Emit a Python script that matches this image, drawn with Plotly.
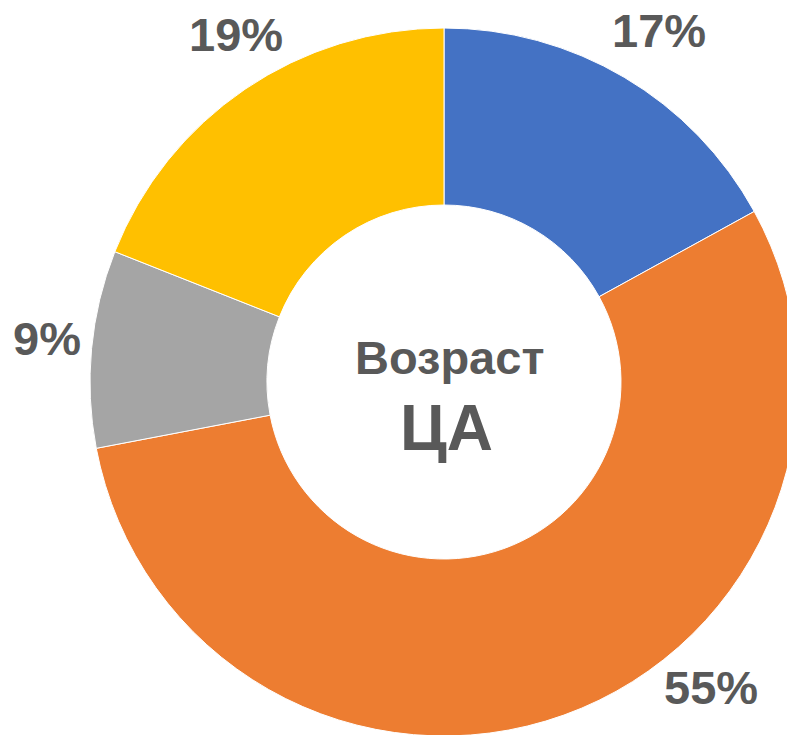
import math
import plotly.graph_objects as go

categories = ["Группа 1", "Группа 2", "Группа 3", "Группа 4"]
values = [17, 55, 9, 19]
colors = ["#4472C4", "#ED7D31", "#A5A5A5", "#FFC000"]
center_lines = ["Возраст", "ЦА"]

W, H = 795, 735
OFF = 8  # default page body margin
CX, CY, R = 444 - OFF, 382 - OFF, 354

fig = go.Figure(go.Pie(
    labels=categories, values=values, sort=False, direction="clockwise",
    rotation=0, hole=0.5, textinfo="none", hoverinfo="label+percent",
    marker=dict(colors=colors, line=dict(color="white", width=1)),
    domain=dict(x=[(CX - R) / W, (CX + R) / W],
                y=[(H - CY - R) / H, (H - CY + R) / H]),
    showlegend=False,
))

font = dict(family="Liberation Sans, Arial, sans-serif", color="#595959", weight="bold")
total = sum(values)
label_angle_nudge = [1.0, -21.1, 0.6, 3.1]
label_radius = [1.16, 1.151, 1.128, 1.139]
cum = 0
for v, nud, rf in zip(values, label_angle_nudge, label_radius):
    mid = (cum + v / 2) / total * 360 + nud
    cum += v
    a = math.radians(mid)
    px = CX + rf * R * math.sin(a)
    py = CY - rf * R * math.cos(a) - 2
    fig.add_annotation(x=px / W, y=1 - py / H, xref="paper", yref="paper",
                       text=f"{round(v / total * 100)}%", showarrow=False,
                       font=dict(size=47, **font), xanchor="center", yanchor="middle",
                       borderpad=0)

fig.add_annotation(x=(449 - OFF) / W, y=1 - (357 - OFF) / H, xref="paper", yref="paper",
                   text=center_lines[0], showarrow=False,
                   font=dict(size=47, **font), xanchor="center", yanchor="middle")
fig.add_annotation(x=(446 - OFF) / W, y=1 - (428 - OFF) / H, xref="paper", yref="paper",
                   text=center_lines[1], showarrow=False,
                   font=dict(size=64, **font), xanchor="center", yanchor="middle")

fig.update_layout(width=W, height=H, margin=dict(l=0, r=0, t=0, b=0),
                  paper_bgcolor="white", plot_bgcolor="white")
fig.write_html("out.html")
